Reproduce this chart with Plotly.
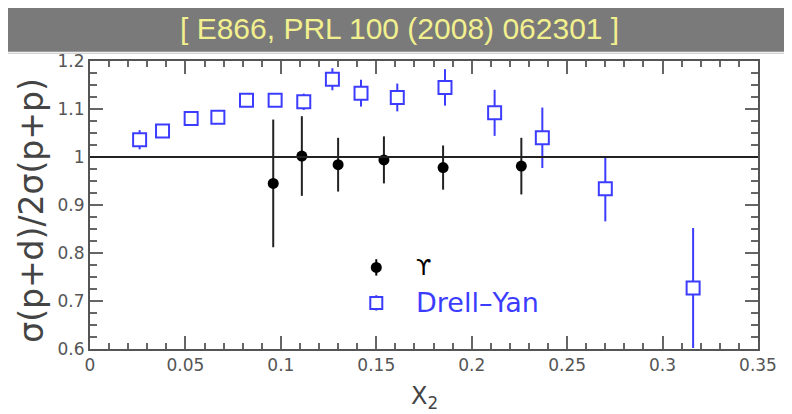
import plotly.graph_objects as go

# Upsilon data
ups_x = [0.096, 0.111, 0.130, 0.154, 0.185, 0.226]
ups_y = [0.945, 1.002, 0.984, 0.994, 0.978, 0.981]
ups_err = [0.133, 0.083, 0.056, 0.049, 0.046, 0.059]

# Drell-Yan data
dy_x = [0.026, 0.038, 0.053, 0.067, 0.082, 0.097, 0.112, 0.127, 0.142, 0.161, 0.186, 0.212, 0.237, 0.270, 0.316]
dy_y = [1.036, 1.054, 1.080, 1.083, 1.118, 1.118, 1.115, 1.162, 1.133, 1.124, 1.145, 1.092, 1.040, 0.934, 0.727]
dy_err = [0.020, 0.010, 0.010, 0.010, 0.010, 0.010, 0.017, 0.023, 0.028, 0.029, 0.038, 0.048, 0.063, 0.068, 0.125]

# Legend entries
leg_x = [0.15]
leg_ups_y = [0.77]
leg_dy_y = [0.696]

title_text = "[ E866, PRL 100 (2008) 062301 ]"
ytitle = "σ(p+d)/2σ(p+p)"
xtitle = "X<sub>2</sub>"

BLUE = "#3c3cff"

fig = go.Figure()

fig.add_trace(go.Scatter(
    x=dy_x, y=dy_y, mode="markers",
    error_y=dict(type="data", array=dy_err, color=BLUE, thickness=2, width=0),
    marker=dict(symbol="square", size=13, color="white", line=dict(color=BLUE, width=2)),
    showlegend=False, cliponaxis=True))

fig.add_trace(go.Scatter(
    x=ups_x, y=ups_y, mode="markers",
    error_y=dict(type="data", array=ups_err, color="#222222", thickness=2, width=0),
    marker=dict(symbol="circle", size=11, color="black"),
    showlegend=False))

# legend markers
fig.add_trace(go.Scatter(
    x=leg_x, y=leg_ups_y, mode="markers",
    error_y=dict(type="data", array=[0.017], color="black", thickness=2, width=0),
    marker=dict(symbol="circle", size=11, color="black"), showlegend=False))
fig.add_trace(go.Scatter(
    x=leg_x, y=leg_dy_y, mode="markers",
    error_y=dict(type="data", array=[0.016], color=BLUE, thickness=2, width=0),
    marker=dict(symbol="square", size=12, color="white", line=dict(color=BLUE, width=2)),
    showlegend=False))

fig.add_annotation(x=0.170, y=leg_ups_y[0], xref="x", yref="y", text="ϒ", showarrow=False,
                   xanchor="left", yanchor="middle", font=dict(family="DejaVu Sans", size=22, color="black"))
fig.add_annotation(x=0.170, y=leg_dy_y[0], xref="x", yref="y", text="Drell–Yan", showarrow=False,
                   xanchor="left", yanchor="middle", font=dict(family="DejaVu Sans", size=27, color=BLUE))

# reference line at 1
fig.add_shape(type="line", xref="x", yref="y", x0=0, x1=0.35, y0=1, y1=1,
              line=dict(color="#222222", width=2))

# title band
fig.add_shape(type="rect", xref="paper", yref="paper", x0=-0.2, x1=1.2, y0=1.032, y1=1.25,
              fillcolor="#7a7a7a", line=dict(width=0), layer="above")
fig.add_shape(type="line", xref="paper", yref="paper", x0=-0.2, x1=1.2, y0=1.027, y1=1.027,
              line=dict(color="#c4c4c4", width=1), layer="above")
fig.add_annotation(x=0.464, y=1.113, xref="paper", yref="paper", text=title_text, showarrow=False,
                   xanchor="center", yanchor="middle",
                   font=dict(family="Liberation Sans", size=30, color="#f2f08e"))

# axis titles
fig.add_annotation(x=-0.087, y=0.483, xref="paper", yref="paper", text=ytitle, showarrow=False,
                   textangle=-90, xanchor="center", yanchor="middle",
                   font=dict(family="DejaVu Sans", size=33, color="#444444"))
fig.add_annotation(x=0.5, y=-0.17, xref="paper", yref="paper", text=xtitle, showarrow=False,
                   xanchor="center", yanchor="middle",
                   font=dict(family="DejaVu Sans", size=24, color="#444444"))

axis_common = dict(
    showline=True, linecolor="#555555", linewidth=2, mirror="allticks",
    ticks="inside", ticklen=13, tickwidth=1.5, tickcolor="#666666",
    showgrid=False, zeroline=False,
    tickfont=dict(family="DejaVu Sans", size=17, color="#555555"),
)

fig.update_xaxes(range=[0, 0.35], dtick=0.05, tick0=0,
                 minor=dict(dtick=0.01, ticks="inside", ticklen=6, tickcolor="#666666", tickwidth=1.5),
                 **axis_common)
fig.update_yaxes(range=[0.6, 1.2], dtick=0.1, tick0=0.6,
                 minor=dict(dtick=0.025, ticks="inside", ticklen=7, tickcolor="#666666", tickwidth=1.5),
                 **axis_common)

fig.update_layout(
    width=792, height=414,
    margin=dict(l=82, r=42, t=53, b=73),
    paper_bgcolor="white", plot_bgcolor="white",
    showlegend=False,
)

fig.write_html("out.html")
